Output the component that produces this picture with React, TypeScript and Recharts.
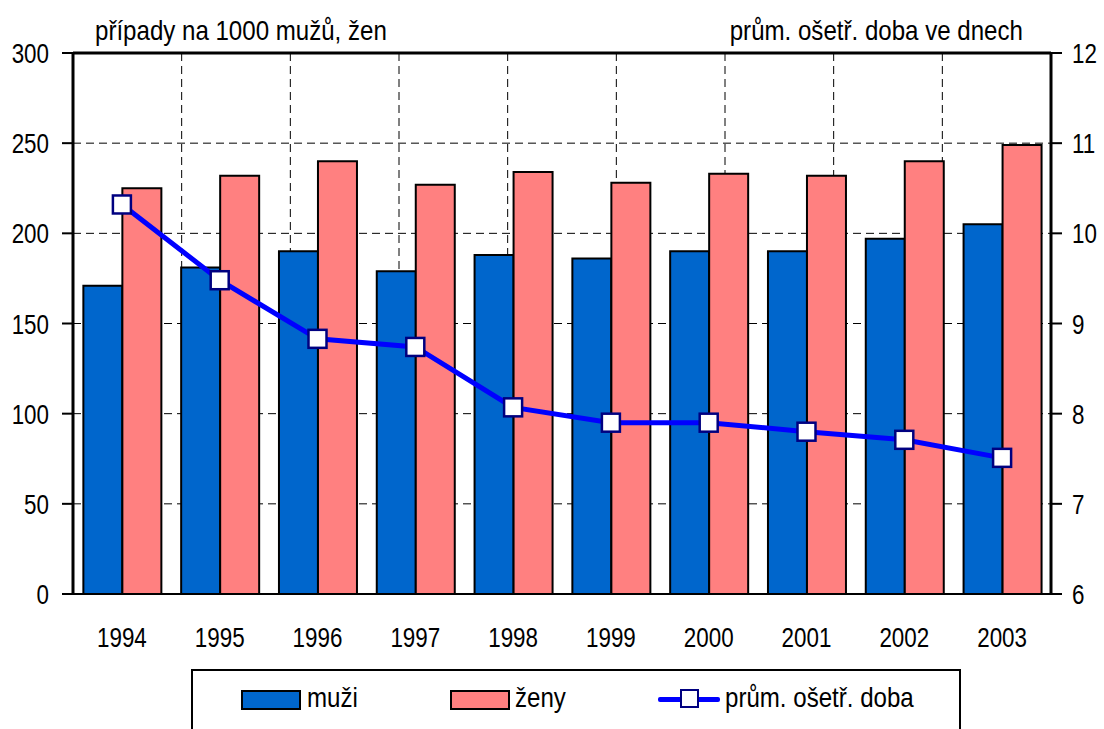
import {
  ComposedChart,
  Bar,
  Line,
  XAxis,
  YAxis,
  CartesianGrid,
  ReferenceLine,
} from "recharts";

const years = ["1994", "1995", "1996", "1997", "1998", "1999", "2000", "2001", "2002", "2003"];
const muzi = [171, 181, 190, 179, 188, 186, 190, 190, 197, 205];
const zeny = [225, 232, 240, 227, 234, 228, 233, 232, 240, 249];
const doba = [10.32, 9.48, 8.83, 8.74, 8.07, 7.9, 7.9, 7.8, 7.71, 7.51];
const leftTicks = [0, 50, 100, 150, 200, 250, 300];
const rightTicks = [6, 7, 8, 9, 10, 11, 12];
const gridTicks = [1, 2, 3, 4, 5, 6, 7, 8, 9];

const data = years.map((y, i) => ({ year: y, muzi: muzi[i], zeny: zeny[i], doba: doba[i] }));

const FONT = '"Liberation Sans", Arial, sans-serif';
// the original font is a narrow Arial; squeeze it horizontally
const SQ = 0.8;
const SQ_TEXT = 0.86;

function NarrowTick(props: any) {
  const { x, y, payload, anchor, dy } = props;
  return (
    <g transform={`translate(${x},${y})`}>
      <text
        transform={`scale(${SQ},1)`}
        textAnchor={anchor}
        dy={dy}
        fill="#000"
        fontSize={28}
        fontFamily={FONT}
      >
        {payload.value}
      </text>
    </g>
  );
}

function SquareDot(props: any) {
  const { cx, cy } = props;
  if (cx == null || cy == null) return null;
  return (
    <rect x={cx - 9} y={cy - 9} width={18} height={18} fill="#fff" stroke="#000080" strokeWidth={2.5} />
  );
}

const narrow = (origin: string): React.CSSProperties => ({
  transform: `scaleX(${SQ_TEXT})`,
  transformOrigin: origin,
  whiteSpace: "nowrap",
});

export default function App() {
  return (
    <div
      style={{
        position: "absolute",
        left: 0,
        top: 0,
        width: 1104,
        height: 729,
        overflow: "hidden",
        background: "#fff",
        fontFamily: FONT,
      }}
    >
      <div style={{ position: "absolute", left: 95, top: 14, fontSize: 28, lineHeight: "34px", color: "#000", ...narrow("left") }}>
        případy na 1000 mužů, žen
      </div>
      <div style={{ position: "absolute", right: 1104 - 1023, top: 14, fontSize: 28, lineHeight: "34px", color: "#000", ...narrow("right") }}>
        prům. ošetř. doba ve dnech
      </div>
      <ComposedChart
        width={1104}
        height={729}
        data={data}
        margin={{ top: 53, right: 0, bottom: 75, left: 0 }}
        barCategoryGap="10.6%"
        barGap={0}
        style={{ fontFamily: FONT }}
      >
        <XAxis xAxisId="grid" type="number" domain={[0, 10]} ticks={gridTicks} hide />
        <CartesianGrid
          xAxisId="grid"
          yAxisId="left"
          stroke="#000"
          strokeDasharray="8 5"
          strokeWidth={1}
        />
        <XAxis
          xAxisId="cat"
          dataKey="year"
          axisLine={{ stroke: "#000", strokeWidth: 2 }}
          tickLine={false}
          tickMargin={27}
          height={60}
          tick={<NarrowTick anchor="middle" dy={20} />}
        />
        <YAxis
          yAxisId="left"
          domain={[0, 300]}
          ticks={leftTicks}
          width={73}
          axisLine={{ stroke: "#000", strokeWidth: 3 }}
          tickLine={{ stroke: "#000", strokeWidth: 2 }}
          tickSize={11}
          tickMargin={13}
          tick={<NarrowTick anchor="end" dy={10} />}
        />
        <YAxis
          yAxisId="right"
          orientation="right"
          domain={[6, 12]}
          ticks={rightTicks}
          width={53}
          axisLine={{ stroke: "#000", strokeWidth: 3 }}
          tickLine={{ stroke: "#000", strokeWidth: 2 }}
          tickSize={11}
          tickMargin={10}
          tick={<NarrowTick anchor="start" dy={10} />}
        />
        <ReferenceLine xAxisId="cat" yAxisId="left" y={300} stroke="#000" strokeWidth={3} />
        <Bar
          xAxisId="cat"
          yAxisId="left"
          dataKey="muzi"
          fill="#0066CC"
          stroke="#000"
          strokeWidth={2}
          isAnimationActive={false}
        />
        <Bar
          xAxisId="cat"
          yAxisId="left"
          dataKey="zeny"
          fill="#FF8080"
          stroke="#000"
          strokeWidth={2}
          isAnimationActive={false}
        />
        <Line
          xAxisId="cat"
          yAxisId="right"
          dataKey="doba"
          stroke="#0000FF"
          strokeWidth={5}
          dot={<SquareDot />}
          activeDot={false}
          isAnimationActive={false}
        />
      </ComposedChart>
      <div
        style={{
          position: "absolute",
          left: 191,
          top: 669,
          width: 766,
          height: 80,
          border: "2px solid #000",
          background: "#fff",
          fontSize: 28,
          lineHeight: "34px",
          color: "#000",
        }}
      >
        <div style={{ position: "absolute", left: 48, top: 19, width: 56, height: 16, background: "#0066CC", border: "2px solid #000" }} />
        <div style={{ position: "absolute", left: 114, top: 10, ...narrow("left") }}>muži</div>
        <div style={{ position: "absolute", left: 257, top: 19, width: 56, height: 16, background: "#FF8080", border: "2px solid #000" }} />
        <div style={{ position: "absolute", left: 322, top: 10, ...narrow("left") }}>ženy</div>
        <div style={{ position: "absolute", left: 465, top: 26, width: 62, height: 5, borderRadius: 2, background: "#0000FF" }} />
        <div style={{ position: "absolute", left: 487, top: 18, width: 15, height: 15, background: "#fff", border: "2.5px solid #000080" }} />
        <div style={{ position: "absolute", left: 532, top: 10, ...narrow("left") }}>prům. ošetř. doba</div>
      </div>
    </div>
  );
}
